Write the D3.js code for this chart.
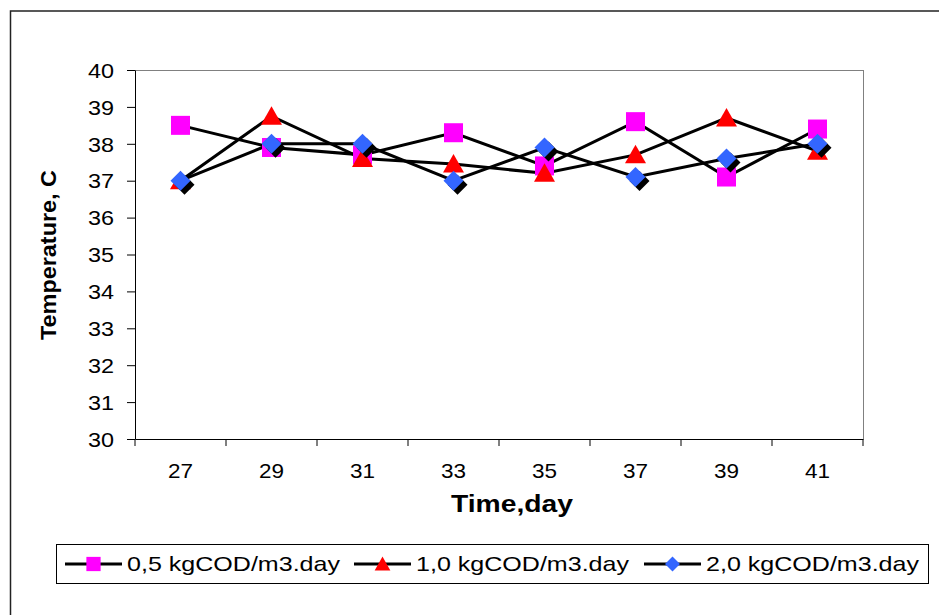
<!DOCTYPE html>
<html><head><meta charset="utf-8">
<script src="https://cdn.jsdelivr.net/npm/d3@7"></script>
<style>body{margin:0;background:#fff;}svg{display:block;font-family:"Liberation Sans",Arial,sans-serif;}</style>
</head><body>
<svg id="c" width="939" height="615"></svg>
<script>
const days = ["27","29","31","33","35","37","39","41"];
const s05 = [38.5, 37.9, 37.7, 38.3, 37.4, 38.6, 37.1, 38.4];
const s10 = [37.0, 38.75, 37.6, 37.45, 37.2, 37.7, 38.7, 37.8];
const s20 = [37.0, 38.0, 38.0, 37.0, 37.9, 37.1, 37.6, 38.0];
const yTicks = [30,31,32,33,34,35,36,37,38,39,40];
const seriesNames = ["0,5 kgCOD/m3.day","1,0 kgCOD/m3.day","2,0 kgCOD/m3.day"];

const svg = d3.select("#c");
const L = 135, T = 70, R = 863, B = 439;

// outer chart frame
svg.append("rect").attr("x",10.5).attr("y",11).attr("width",940).attr("height",620)
  .attr("fill","none").attr("stroke","#222").attr("stroke-width",1.5);

const x = d3.scaleBand().domain(days).range([L,R]);
const y = d3.scaleLinear().domain([30,40]).range([B,T]);

// plot frame (top/right)
svg.append("line").attr("x1",L).attr("x2",R).attr("y1",T+0.5).attr("y2",T+0.5).attr("stroke","#808080");
svg.append("line").attr("x1",R+0.5).attr("x2",R+0.5).attr("y1",T).attr("y2",B).attr("stroke","#808080");

const yAx = svg.append("g").attr("transform",`translate(${L},0)`)
  .call(d3.axisLeft(y).tickValues(yTicks).tickSize(8).tickSizeOuter(0).tickPadding(13));
yAx.selectAll("text").attr("font-size",20).attr("fill","#000")
  .attr("textLength",26).attr("lengthAdjust","spacingAndGlyphs").attr("dy","0.36em");
yAx.selectAll("line,path").attr("stroke","#000");

const xAx = svg.append("g").attr("transform",`translate(0,${B})`)
  .call(d3.axisBottom(x).tickSize(0).tickSizeOuter(0).tickPadding(24));
xAx.selectAll("text").attr("font-size",21).attr("fill","#000")
  .attr("textLength",25).attr("lengthAdjust","spacingAndGlyphs");
xAx.select("path").attr("stroke","#000");
// category boundary ticks
const bounds = days.map(d=>x(d)).concat([R]);
xAx.selectAll(".bnd").data(bounds).enter().append("line")
  .attr("x1",d=>d).attr("x2",d=>d).attr("y1",0).attr("y2",7).attr("stroke","#000");

svg.append("text").attr("x",512).attr("y",512).attr("text-anchor","middle")
  .attr("font-weight","bold").attr("font-size",23)
  .attr("textLength",122).attr("lengthAdjust","spacingAndGlyphs").text("Time,day");
svg.append("text").attr("transform","translate(56,255) rotate(-90)").attr("text-anchor","middle")
  .attr("font-weight","bold").attr("font-size",22)
  .attr("textLength",170).attr("lengthAdjust","spacingAndGlyphs").text("Temperature, C");

const cx = d => x(d) + x.bandwidth()/2;
const line = d3.line().x(d=>cx(d[0])).y(d=>y(d[1]));
const all = [s05,s10,s20];
all.forEach(s=>{
  svg.append("path").datum(days.map((d,i)=>[d,s[i]])).attr("d",line)
    .attr("fill","none").attr("stroke","#000").attr("stroke-width",3);
});

function marker(g, kind, px, py, sc, shadow){
  const h = 10*sc;
  if(kind===0){
    g.append("rect").attr("x",px-9.5*sc).attr("y",py-9.5*sc).attr("width",19*sc).attr("height",19*sc).attr("fill","#ff00ff");
  } else if(kind===1){
    g.append("path").attr("d",`M${px},${py-10*sc}L${px+10.5*sc},${py+8.5*sc}L${px-10.5*sc},${py+8.5*sc}Z`).attr("fill","#ff0000");
  } else {
    if(shadow) g.append("path").attr("d",`M${px+4},${py-h+4}L${px+h+4},${py+4}L${px+4},${py+h+4}L${px-h+4},${py+4}Z`).attr("fill","#000");
    g.append("path").attr("d",`M${px},${py-h}L${px+h},${py}L${px},${py+h}L${px-h},${py}Z`).attr("fill","#3366ff");
  }
}
all.forEach((s,k)=>{
  const g = svg.append("g");
  days.forEach((d,i)=>marker(g,k,cx(d),y(s[i]),1,true));
});

// legend
const lg = svg.append("g");
lg.append("rect").attr("x",56.5).attr("y",544.5).attr("width",872).attr("height",39)
  .attr("fill","#fff").attr("stroke","#000");
const legLineX = [65, 354, 644];
seriesNames.forEach((n,k)=>{
  const x0 = legLineX[k];
  lg.append("line").attr("x1",x0).attr("x2",x0+57).attr("y1",564).attr("y2",564)
    .attr("stroke","#000").attr("stroke-width",3);
  marker(lg,k,x0+28.5,564,0.75,false);
  lg.append("text").attr("x",x0+62).attr("y",571).attr("font-size",21)
    .attr("textLength",213).attr("lengthAdjust","spacingAndGlyphs").text(n);
});
</script>
</body></html>
